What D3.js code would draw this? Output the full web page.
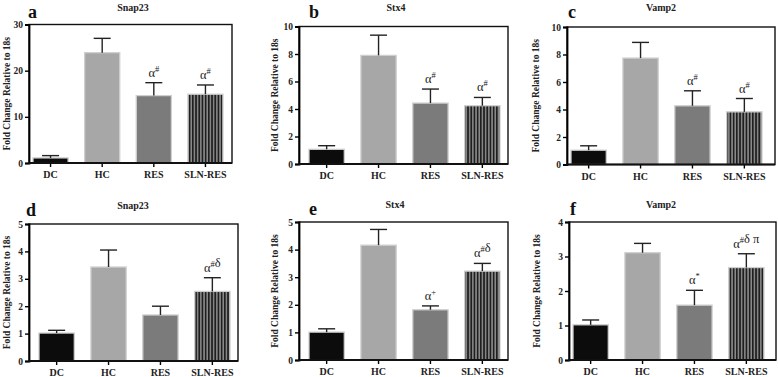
<!DOCTYPE html>
<html>
<head>
<meta charset="utf-8">
<script src="https://cdn.jsdelivr.net/npm/d3@7/dist/d3.min.js"></script>
<style>
  body { margin: 0; background: #fff; }
  svg text { font-family: "Liberation Serif", "Times New Roman", serif; }
</style>
</head>
<body>
<div id="chart"></div>
<script>
// data
var groups = ["DC", "HC", "RES", "SLN-RES"];
var letters = ["a", "b", "c", "d", "e", "f"];
var genes = ["Snap23", "Stx4", "Vamp2", "Snap23", "Stx4", "Vamp2"];
var yMax = [30, 10, 10, 5, 5, 4];
var yStep = [10, 2, 2, 1, 1, 1];
var means = [
  [1.1, 23.9, 14.6, 14.9],
  [1.07, 7.9, 4.43, 4.24],
  [1.04, 7.74, 4.27, 3.83],
  [1.02, 3.43, 1.68, 2.54],
  [1.01, 4.16, 1.82, 3.22],
  [1.02, 3.11, 1.59, 2.68]
];
var sems = [
  [0.5, 3.1, 2.8, 2.0],
  [0.26, 1.47, 1.02, 0.6],
  [0.32, 1.14, 1.09, 0.97],
  [0.1, 0.62, 0.32, 0.5],
  [0.12, 0.57, 0.14, 0.28],
  [0.14, 0.27, 0.43, 0.4]
];
// {x} = superscript
var marks = [
  ["", "", "α{#}", "α{#}"],
  ["", "", "α{#}", "α{#}"],
  ["", "", "α{#}", "α{#}"],
  ["", "", "", "α{#}δ"],
  ["", "", "α{+}", "α{#}δ"],
  ["", "", "α{*}", "α{#}δ π"]
];

// layout of each panel (plot box, bar span, label spots)
var layout = [
  {x0: 29, x1: 232, yT: 24.5, yB: 163, b0: 33, b1: 223, lx: 28, ly: 18, tx: 133, ty: 11, ax: 7},
  {x0: 299, x1: 508, yT: 26.5, yB: 164, b0: 309, b1: 500, lx: 309, ly: 18, tx: 396, ty: 11, ax: 275},
  {x0: 567, x1: 775, yT: 27, yB: 164.5, b0: 571, b1: 762, lx: 568, ly: 18, tx: 661, ty: 11, ax: 536},
  {x0: 29, x1: 238, yT: 224, yB: 361, b0: 39, b1: 230, lx: 26, ly: 216, tx: 133, ty: 209, ax: 7},
  {x0: 299, x1: 508, yT: 222, yB: 360, b0: 309, b1: 500, lx: 309, ly: 215, tx: 395, ty: 208, ax: 275},
  {x0: 569, x1: 776, yT: 222, yB: 360, b0: 573, b1: 764, lx: 570, ly: 215, tx: 661, ty: 208, ax: 537}
];

var fills = ["#0c0c0c", "#a7a7a7", "#7b7b7b", "url(#stripes)"];

var svg = d3.select("#chart").append("svg").attr("width", 778).attr("height", 377);

var pat = svg.append("defs").append("pattern")
    .attr("id", "stripes").attr("patternUnits", "userSpaceOnUse")
    .attr("width", 3.2).attr("height", 10);
pat.append("rect").attr("width", 3.2).attr("height", 10).attr("fill", "#8c8c8c");
pat.append("rect").attr("width", 1.7).attr("height", 10).attr("fill", "#1f1f1f");

function drawPanel(i){
    var L = layout[i];
    var g = svg.append("g");

    var x = d3.scaleBand().domain(groups).range([L.b0, L.b1]).paddingInner(0.32).paddingOuter(0);
    var y = d3.scaleLinear().domain([0, yMax[i]]).range([L.yB, L.yT]);

    var rows = groups.map(function(d, j){ return {g: d, m: means[i][j], e: sems[i][j], k: marks[i][j], j: j}; });

    //bars
    g.selectAll("rect.bar").data(rows).enter().append("rect")
        .attr("class", "bar")
        .attr("x", function(d){ return x(d.g); })
        .attr("width", x.bandwidth())
        .attr("y", function(d){ return y(d.m); })
        .attr("height", function(d){ return y(0) - y(d.m); })
        .attr("fill", function(d){ return fills[d.j]; })
        .attr("stroke", "#cfcfcf")
        .attr("stroke-width", 1.3);

    //error bars, upper only
    var eb = g.selectAll("g.err").data(rows).enter().append("g").attr("class", "err")
        .attr("stroke", "#222").attr("stroke-width", 1.4);
    eb.append("line")
        .attr("x1", function(d){ return x(d.g) + x.bandwidth() / 2; })
        .attr("x2", function(d){ return x(d.g) + x.bandwidth() / 2; })
        .attr("y1", function(d){ return y(d.m); })
        .attr("y2", function(d){ return y(d.m + d.e); });
    eb.append("line")
        .attr("x1", function(d){ return x(d.g) + x.bandwidth() / 2 - 8.5; })
        .attr("x2", function(d){ return x(d.g) + x.bandwidth() / 2 + 8.5; })
        .attr("y1", function(d){ return y(d.m + d.e); })
        .attr("y2", function(d){ return y(d.m + d.e); });

    //significance marks
    rows.filter(function(d){ return d.k; }).forEach(function(d){
        var t = g.append("text")
            .attr("x", x(d.g) + x.bandwidth() / 2)
            .attr("y", y(d.m + d.e) - 6)
            .attr("text-anchor", "middle")
            .attr("font-size", 12.5)
            .attr("fill", "#222");
        d.k.split(/(\{[^}]*\})/).forEach(function(p){
            if(!p) return;
            if(p[0] == "{"){
                t.append("tspan").attr("dy", -5).attr("font-size", 8.5).text(p.slice(1, -1));
                t.append("tspan").attr("dy", 5).text("");
            } else {
                t.append("tspan").text(p);
            }
        });
    });

    //box
    g.append("rect")
        .attr("x", L.x0).attr("y", L.yT)
        .attr("width", L.x1 - L.x0).attr("height", L.yB - L.yT)
        .attr("fill", "none").attr("stroke", "#111").attr("stroke-width", 1.4);

    var yAxis = g.append("g").attr("transform", "translate(" + L.x0 + ",0)")
        .call(d3.axisLeft(y).tickValues(d3.range(0, yMax[i] + 0.001, yStep[i])).tickSize(4).tickPadding(2).tickFormat(d3.format("d")));
    yAxis.select(".domain").attr("stroke-width", 1.8);
    yAxis.selectAll(".tick line").attr("stroke-width", 1.4);
    yAxis.selectAll("text").attr("font-size", 9.5).attr("font-weight", "bold").attr("font-family", "Liberation Serif, serif").attr("fill", "#222");

    var xAxis = g.append("g").attr("transform", "translate(0," + L.yB + ")")
        .call(d3.axisBottom(x).tickSize(4).tickPadding(4));
    xAxis.select(".domain").remove();
    g.append("line").attr("x1", L.x0 - 1).attr("x2", L.x1).attr("y1", L.yB).attr("y2", L.yB)
        .attr("stroke", "#111").attr("stroke-width", 1.8);
    xAxis.selectAll(".tick line").attr("stroke-width", 1.4);
    xAxis.selectAll("text").attr("font-size", 10).attr("font-weight", "bold").attr("font-family", "Liberation Serif, serif").attr("fill", "#222");

    //axis title
    g.append("text")
        .attr("transform", "translate(" + (L.ax + 3) + "," + ((L.yT + L.yB) / 2) + ") rotate(-90)")
        .attr("text-anchor", "middle")
        .attr("font-size", 9.5).attr("font-weight", "bold").attr("fill", "#222")
        .text("Fold Change Relative to 18s");

    //gene title and panel letter
    g.append("text").attr("x", L.tx).attr("y", L.ty)
        .attr("text-anchor", "middle").attr("font-size", 10).attr("font-weight", "bold").attr("fill", "#222")
        .text(genes[i]);
    g.append("text").attr("x", L.lx).attr("y", L.ly)
        .attr("font-size", 18).attr("font-weight", "bold").attr("fill", "#111")
        .text(letters[i]);
}

for(var i = 0; i < 6; i++){
    drawPanel(i);
}
</script>
</body>
</html>
